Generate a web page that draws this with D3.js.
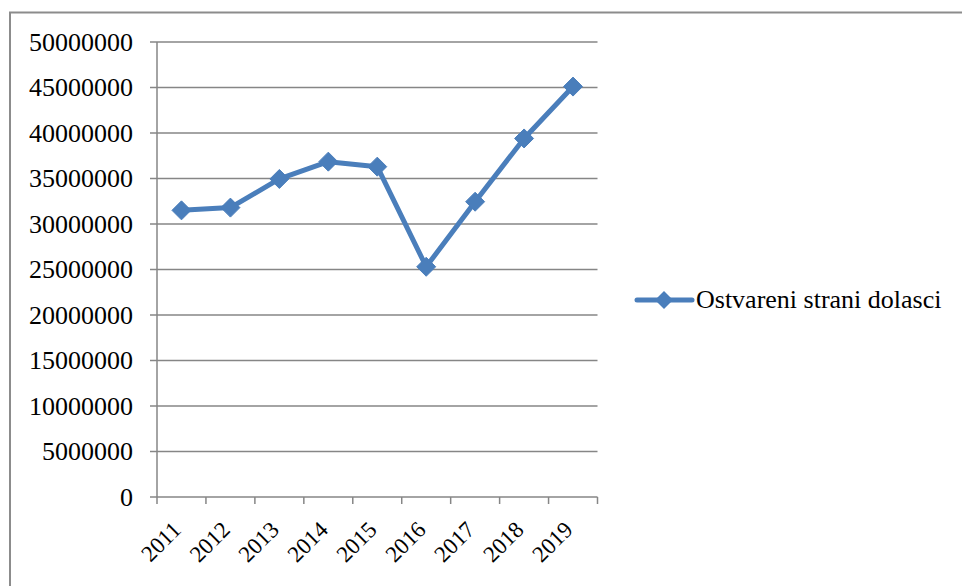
<!DOCTYPE html>
<html><head><meta charset="utf-8">
<script src="https://cdn.jsdelivr.net/npm/d3@7"></script>
<style>body{margin:0;background:#fff}svg{display:block}text{font-family:"Liberation Serif","DejaVu Serif",serif}</style>
</head><body>
<svg id="c" width="962" height="586"></svg>
<script>
const years = ["2011","2012","2013","2014","2015","2016","2017","2018","2019"];
const arrivals = [31500000,31800000,34950000,36850000,36300000,25300000,32450000,39400000,45100000];
const yTicks = [0,5000000,10000000,15000000,20000000,25000000,30000000,35000000,40000000,45000000,50000000];
const seriesName = "Ostvareni strani dolasci";

const svg = d3.select("#c");
const blue = "#4A7EBB", grid = "#868686";

svg.append("path").attr("d","M10,586 L10,12.5 L962,12.5").attr("fill","none").attr("stroke","#8c8c8c").attr("stroke-width",2);

const L=157, R=597.5, T=42, B=497;
const x = d3.scaleBand().domain(years).range([L,R]);
const y = d3.scaleLinear().domain([0,50000000]).range([B,T]);

svg.append("g").selectAll("line").data(yTicks).join("line")
  .attr("x1",L-7).attr("x2",R).attr("y1",d=>y(d)).attr("y2",d=>y(d))
  .attr("stroke",grid).attr("stroke-width",1.5);

svg.append("g").selectAll("text").data(yTicks).join("text")
  .attr("x",133).attr("y",d=>y(d)+8.5).attr("text-anchor","end")
  .attr("font-size",26).attr("fill","#000")
  .text(d=>String(d));

svg.append("line").attr("x1",L).attr("x2",L).attr("y1",T).attr("y2",B)
  .attr("stroke",grid).attr("stroke-width",1.5);

const xt = years.map(d=>x(d)).concat([R]);
svg.append("g").selectAll("line").data(xt).join("line")
  .attr("x1",d=>d).attr("x2",d=>d).attr("y1",B).attr("y2",B+7)
  .attr("stroke",grid).attr("stroke-width",1.5);

svg.append("g").selectAll("text").data(years).join("text")
  .attr("transform",d=>`translate(${x(d)+x.bandwidth()/2+1},${B+34}) rotate(-45)`)
  .attr("text-anchor","end")
  .attr("font-size",23).attr("fill","#000")
  .text(d=>d);

const line = d3.line().x((d,i)=>x(years[i])+x.bandwidth()/2).y(d=>y(d));
svg.append("path").datum(arrivals).attr("d",line).attr("fill","none")
  .attr("stroke",blue).attr("stroke-width",5).attr("stroke-linejoin","round");

const diamond = (cx,cy,r)=>`M${cx},${cy-r}L${cx+r},${cy}L${cx},${cy+r}L${cx-r},${cy}Z`;
svg.append("g").selectAll("path").data(arrivals).join("path")
  .attr("d",(d,i)=>diamond(x(years[i])+x.bandwidth()/2,y(d),9.5))
  .attr("fill",blue).attr("stroke",blue).attr("stroke-width",1);

const lg = svg.append("g");
lg.append("line").attr("x1",637).attr("x2",692).attr("y1",300).attr("y2",300)
  .attr("stroke",blue).attr("stroke-width",5).attr("stroke-linecap","round");
lg.append("path").attr("d",diamond(664,300,9)).attr("fill",blue);
lg.append("text").attr("x",696).attr("y",308)
  .attr("font-size",26).attr("fill","#000").text(seriesName);
</script>
</body></html>
